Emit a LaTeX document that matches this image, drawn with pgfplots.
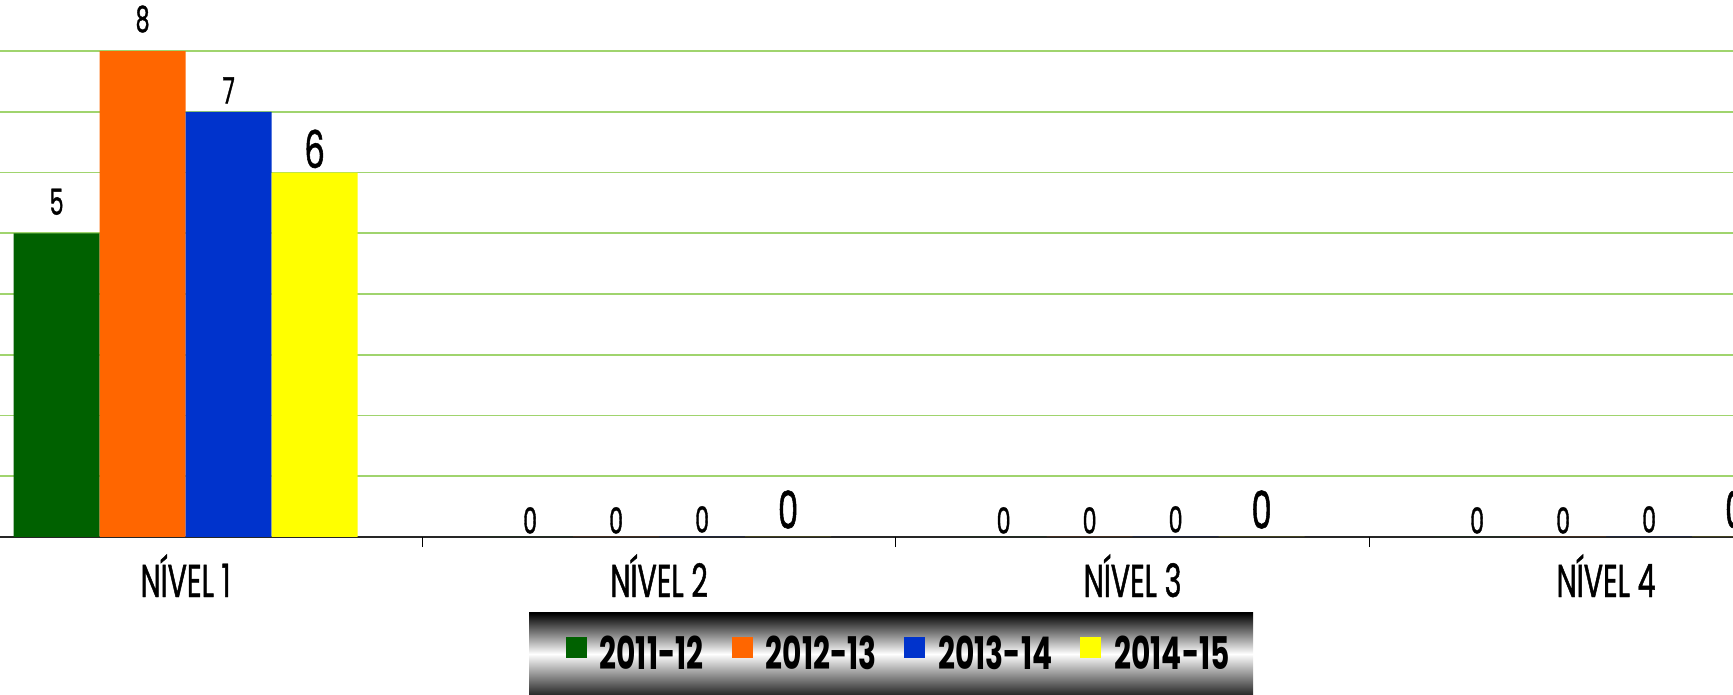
\documentclass[border=0pt]{standalone}
\usepackage{pgfplots}
\pgfplotsset{compat=1.18}
\usepackage{fontspec}
\setmainfont{Poppins}[FakeStretch=0.62, FakeBold=1]
\newfontfamily\legfont{Poppins Bold}[FakeStretch=0.66]
\definecolor{cGreen}{RGB}{0,97,0}
\definecolor{cOrange}{RGB}{255,102,0}
\definecolor{cBlue}{RGB}{0,51,204}
\definecolor{cYellow}{RGB}{255,255,0}
\definecolor{cGrid}{RGB}{160,212,110}
\begin{document}
\begin{tikzpicture}
\shade[top color=black, bottom color=black!85, middle color=white] (264.5pt,-79pt) rectangle (626.5pt,-38pt);
\begin{axis}[
  at={(0,0)}, anchor=south west,
  scale only axis, width=866.5pt, height=243pt,
  xmin=-0.392, xmax=3.268, ymin=0, ymax=8,
  ybar=0pt, bar width=43pt,
  /pgf/number format/assume math mode=true,
  axis x line*=bottom, axis y line*=left,
  x axis line style={draw=black!85, line width=1pt},
  y axis line style={draw=none},
  ytick={1,2,3,4,5,6,7,8}, yticklabels={}, ytick style={draw=none},
  ymajorgrids, grid style={draw=cGrid, line width=0.8pt},
  xtick={0,1,2,3}, xticklabels={NÍVEL 1,NÍVEL 2,NÍVEL 3,NÍVEL 4},
  major tick length=0pt, tick align=outside,
  xticklabel style={anchor=base, yshift=-30pt, inner sep=0pt, font=\fontsize{23}{26}\selectfont},
  extra x ticks={0.5,1.5,2.5}, extra x tick labels={},
  extra x tick style={major tick length=5pt, tick style={draw=black, line width=0.6pt}},
  clip=false,
  legend columns=4,
  legend style={at={(0.518,-0.2407)}, anchor=center, draw=none, fill=none,
    font=\legfont\fontsize{22.5}{24}\selectfont,
    nodes={inner sep=0pt},
    /tikz/every odd column/.append style={column sep=6.5pt},
    /tikz/every even column/.append style={column sep=14pt}},
  nodes near coords,
  visualization depends on={rawy \as \rawy},
  every node near coord/.append style={anchor=south, inner sep=0pt, text=black},
]
\addplot[fill=cGreen, draw=none,
  legend image code/.code={\fill[cGreen] (0pt,-2pt) rectangle (10.5pt,8.5pt);},
  every node near coord/.append style={font=\fontsize{18}{20}\selectfont, yshift={ifthenelse(\rawy>0,9pt,1.5pt)}}]
  coordinates {(0,5) (1,0) (2,0) (3,0)};
\addplot[fill=cOrange, draw=none,
  legend image code/.code={\fill[cOrange] (0pt,-2pt) rectangle (10.5pt,8.5pt);},
  every node near coord/.append style={font=\fontsize{18}{20}\selectfont, yshift={ifthenelse(\rawy>0,9pt,1.5pt)}}]
  coordinates {(0,8) (1,0) (2,0) (3,0)};
\addplot[fill=cBlue, draw=none,
  legend image code/.code={\fill[cBlue] (0pt,-2pt) rectangle (10.5pt,8.5pt);},
  every node near coord/.append style={font=\fontsize{18}{20}\selectfont, yshift={ifthenelse(\rawy>0,4pt,2pt)}}]
  coordinates {(0,7) (1,0) (2,0) (3,0)};
\addplot[fill=cYellow, draw=none,
  legend image code/.code={\fill[cYellow] (0pt,-2pt) rectangle (10.5pt,8.5pt);},
  every node near coord/.append style={font=\fontsize{26}{28}\selectfont, yshift={ifthenelse(\rawy>0,2pt,4pt)}}]
  coordinates {(0,6) (1,0) (2,0) (3,0)};
\legend{2011-12,2012-13,2013-14,2014-15}
\end{axis}
\pgfresetboundingbox
\path[use as bounding box] (0pt,-79pt) rectangle (866.5pt,268.5pt);
\end{tikzpicture}
\end{document}
